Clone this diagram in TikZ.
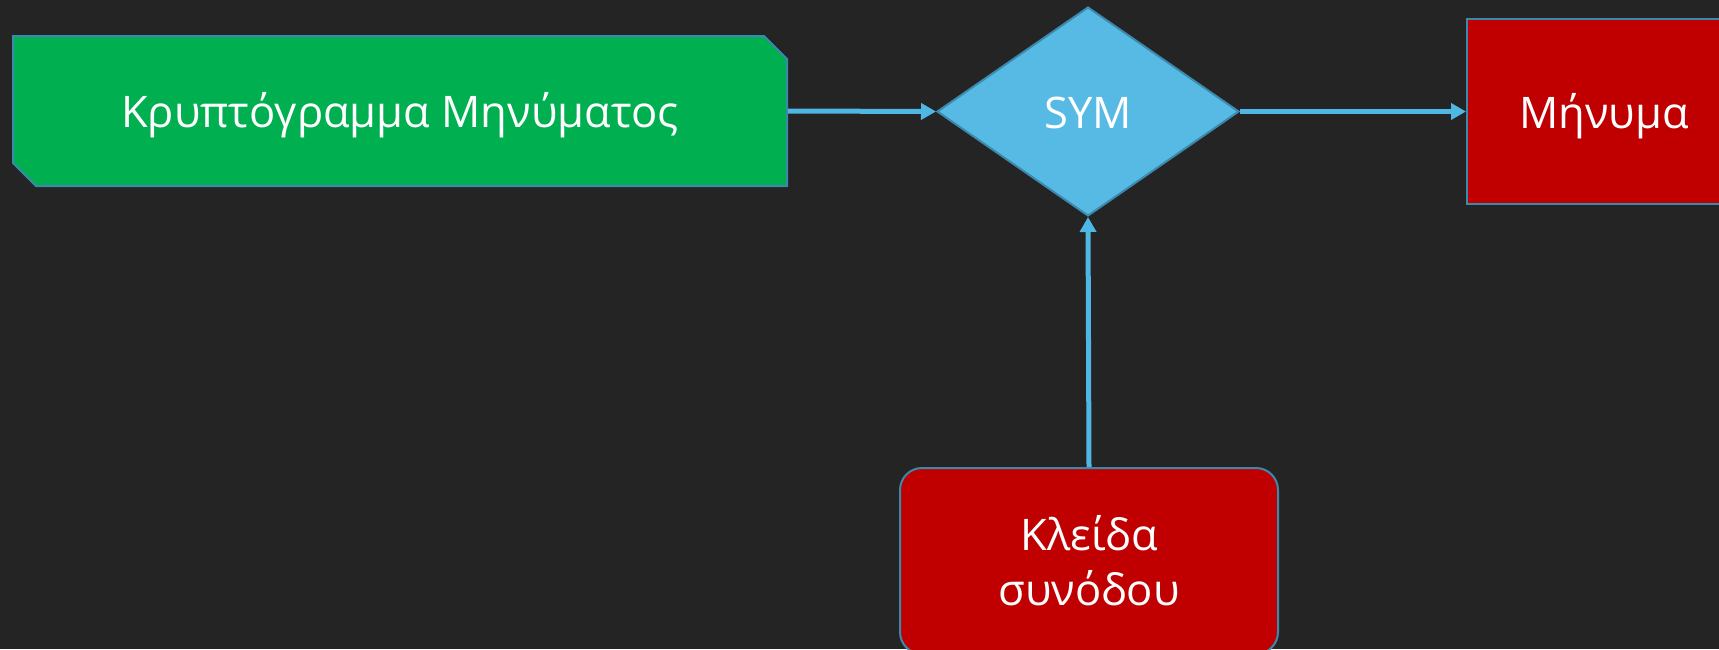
\documentclass[tikz,border=0pt]{standalone}
\usepackage{fontspec}
\setmainfont{Open Sans}
\usetikzlibrary{shapes.geometric,shapes.misc,arrows.meta}
\definecolor{board}{HTML}{242424}
\definecolor{cipher}{HTML}{00B050}
\definecolor{symfill}{HTML}{57BAE5}
\definecolor{boxred}{HTML}{C00000}
\definecolor{edge}{HTML}{3C89AE}
\definecolor{flow}{HTML}{4FB7E4}
\begin{document}
\begin{tikzpicture}[x=1pt,y=-1pt,
  every node/.style={text=white,font=\fontsize{43.5}{55}\selectfont,inner sep=0pt},
  oneline/.style={text height=33pt,text depth=0pt},
  outline/.style={draw=edge,line width=2pt},
  cipherbox/.style={outline,oneline,fill=cipher,chamfered rectangle,
    chamfered rectangle corners={north east,south west},
    chamfered rectangle xsep=11.5pt,chamfered rectangle ysep=11.5pt,
    minimum width=774pt,minimum height=150pt},
  symbox/.style={outline,oneline,fill=symfill,diamond,minimum width=302pt,minimum height=209pt},
  redbox/.style={outline,fill=boxred,rectangle,align=center},
  link/.style={draw=flow,line width=5pt,-{Triangle[length=15pt,width=16pt]}}]
  % chalkboard background
  \fill[board] (0,0) rectangle (1719,649);
  \useasboundingbox (0,0) rectangle (1719,649);

  \node[cipherbox] (ct) at (400,111) {Κρυπτόγραμμα Μηνύματος};
  \node[symbox] (sym) at (1088,111.5) {SYM};
  \node[redbox,oneline,minimum width=274pt,minimum height=185pt] (msg) at (1604,111.5) {Μήνυμα};
  \node[redbox,rounded corners=22pt,minimum width=378pt,minimum height=186pt] (key) at (1089,561) {Κλείδα\\συνόδου};

  \draw[link] (ct.east) -- (sym.west);
  \draw[link] (sym.east) -- (msg.west);
  \draw[link] (key.north) -- (sym.south);
\end{tikzpicture}
\end{document}
